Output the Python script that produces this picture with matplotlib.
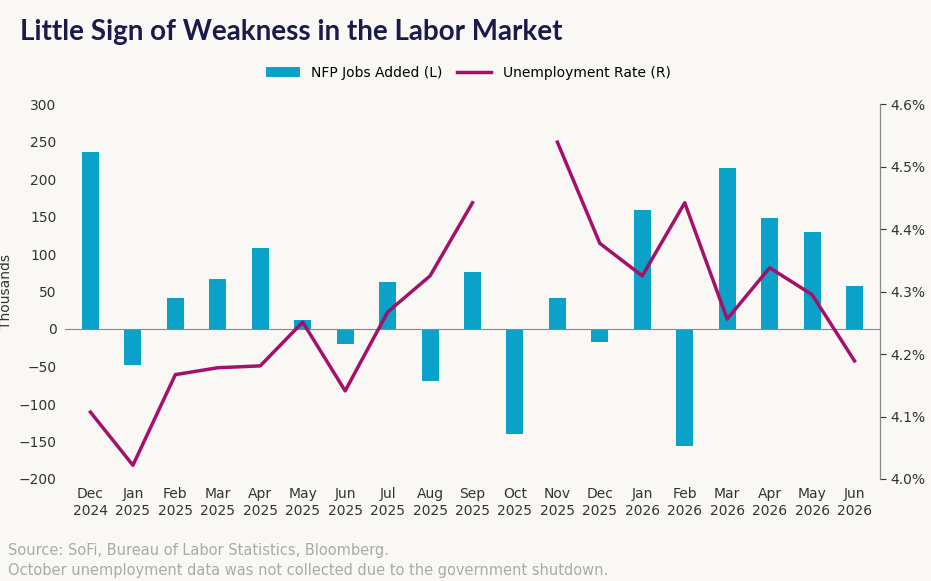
import matplotlib
matplotlib.use("Agg")
import matplotlib.pyplot as plt
import numpy as np

months = ["Dec\n2024","Jan\n2025","Feb\n2025","Mar\n2025","Apr\n2025","May\n2025","Jun\n2025","Jul\n2025","Aug\n2025","Sep\n2025","Oct\n2025","Nov\n2025","Dec\n2025","Jan\n2026","Feb\n2026","Mar\n2026","Apr\n2026","May\n2026","Jun\n2026"]
nfp = [236,-48,41,67,108,12,-20,63,-69,76,-140,41,-17,159,-156,215,148,129,57]
unemp = [4.107,4.022,4.167,4.178,4.181,4.251,4.141,4.267,4.325,4.442,np.nan,4.539,4.377,4.325,4.442,4.256,4.338,4.295,4.189]

bg = "#f9f8f5"
fig = plt.figure(figsize=(9.31,5.81), dpi=100, facecolor=bg)
ax = fig.add_axes([65/931, 1-479/581, 815/931, 375/581], facecolor=bg)
x = np.arange(len(months))
ax.bar(x, nfp, width=0.4, color="#0aa2c8", label="NFP Jobs Added (L)")
ax.set_ylim(-200,300)
ax.set_yticks(range(-200,301,50))
ax.set_xlim(-0.6, len(months)-0.4)
ax.set_xticks(x)
ax.set_xticklabels(months)
ax.axhline(0, color="#888888", lw=0.8)
ax.set_ylabel("Thousands", fontsize=10, color="#333333", labelpad=4)
for s in ["top","left","bottom"]:
    ax.spines[s].set_visible(False)
ax.spines["right"].set_color("#888888")
ax.tick_params(axis="both", length=0, labelsize=10, colors="#333333", pad=6)
ax2 = ax.twinx()
ax2.plot(x, unemp, color="#a5106b", lw=2.5, label="Unemployment Rate (R)")
ax2.set_ylim(4.0,4.6)
ax2.set_yticks(np.arange(4.0,4.61,0.1))
ax2.set_yticklabels([f"{v:.1f}%" for v in np.arange(4.0,4.61,0.1)])
for s in ["top","left","bottom"]:
    ax2.spines[s].set_visible(False)
ax2.spines["right"].set_color("#888888")
ax2.tick_params(axis="y", length=4, labelsize=10, colors="#333333", direction="out")
h1,l1 = ax.get_legend_handles_labels(); h2,l2 = ax2.get_legend_handles_labels()
fig.legend(h1+h2, l1+l2, loc="center", bbox_to_anchor=(468/931, 1-73/581), ncol=2, frameon=False, fontsize=10, handlelength=2.5, columnspacing=1.0)
fig.text(20/931, 1-32/581, "Little Sign of Weakness in the Labor Market", fontsize=20, fontweight="bold", color="#1c1a4a", va="center", family="Lato")
fig.text(8/931, 1-550/581, "Source: SoFi, Bureau of Labor Statistics, Bloomberg.", fontsize=10.5, color="#aaaaaa", va="center")
fig.text(8/931, 1-570/581, "October unemployment data was not collected due to the government shutdown.", fontsize=10.5, color="#aaaaaa", va="center")
fig.savefig("out.png", dpi=100, facecolor=bg)
